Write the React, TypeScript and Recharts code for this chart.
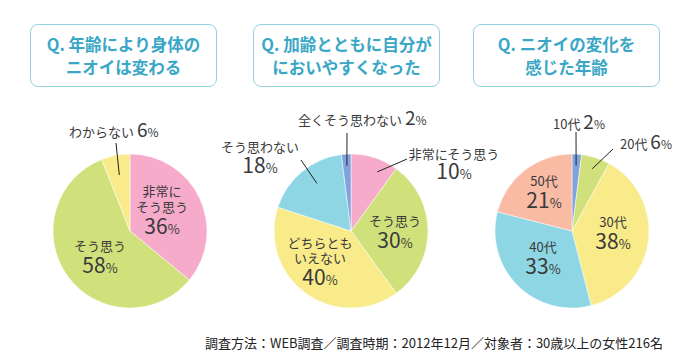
import React from 'react';
import { PieChart, Pie, Cell } from 'recharts';

// Q1: 年齢により身体のニオイは変わる
const q1Names = ['非常にそう思う', 'そう思う', 'わからない'];
const q1Values = [36, 58, 6];
// Q2: 加齢とともに自分がにおいやすくなった
const q2Names = ['非常にそう思う', 'そう思う', 'どちらともいえない', 'そう思わない', '全くそう思わない'];
const q2Values = [10, 30, 40, 18, 2];
// Q3: ニオイの変化を感じた年齢
const q3Names = ['10代', '20代', '30代', '40代', '50代'];
const q3Values = [2, 6, 38, 33, 21];

const PINK = '#f6abcb';
const GREEN = '#d0e17c';
const YELLOW = '#f9ea8a';
const SKY = '#8ed6e3';
const BLUE = '#7fa3df';
const SALMON = '#f9bba3';

const q1Colors = [PINK, GREEN, YELLOW];
const q2Colors = [PINK, GREEN, YELLOW, SKY, BLUE];
const q3Colors = [BLUE, GREEN, YELLOW, SKY, SALMON];

const FONT = '"Noto Sans CJK JP", "Noto Sans", sans-serif';
const TEXT = '#3a3a3a';
const R = 77;
const CY = 226;

type LabelSpec = {
  lines: string[];
  dx: number;
  dy: number;
  inline?: boolean;
  gap?: number;
  pctGap?: number;
  lead?: { r: number; ex: number; ey: number; da?: number };
};

// inline labels: dx is the left edge of the text; block labels: dx is the centre
const q1Labels: LabelSpec[] = [
  { lines: ['非常に', 'そう思う'], dx: 32, dy: -40 },
  { lines: ['そう思う'], dx: -30, dy: 15 },
  { lines: ['わからない'], dx: -61, dy: -99, inline: true, lead: { r: 0.74, ex: -14, ey: -88 } },
];
const q2Labels: LabelSpec[] = [
  { lines: ['非常にそう思う'], dx: 103, dy: -77, pctGap: 18, lead: { r: 0.84, ex: 56, ey: -72, da: 6 } },
  { lines: ['そう思う'], dx: 44, dy: -10 },
  { lines: ['どちらとも', 'いえない'], dx: -31, dy: 12, gap: 15 },
  { lines: ['そう思わない'], dx: -91, dy: -84, pctGap: 19, lead: { r: 0.76, ex: -50, ey: -71, da: 4 } },
  { lines: ['全くそう思わない'], dx: -53, dy: -111, inline: true, lead: { r: 0.85, ex: -4, ey: -98 } },
];
const q3Labels: LabelSpec[] = [
  { lines: ['10代'], dx: -19, dy: -107, inline: true, lead: { r: 0.85, ex: 4, ey: -99 } },
  { lines: ['20代'], dx: 48, dy: -87, inline: true, lead: { r: 0.85, ex: 41, ey: -82 } },
  { lines: ['30代'], dx: 41, dy: -9 },
  { lines: ['40代'], dx: -29, dy: 16 },
  { lines: ['50代'], dx: -28, dy: -50 },
];

const RAD = Math.PI / 180;

const makeLabel = (specs: LabelSpec[], values: number[]) => (props: any) => {
  const { cx, cy, midAngle, outerRadius, index } = props;
  const s = specs[index];
  if (!s) return null;
  const v = values[index];
  const x = cx + s.dx;
  const y = cy + s.dy;
  let lead = null;
  if (s.lead) {
    const a = (midAngle - (s.lead.da || 0)) * RAD;
    const sx = cx + outerRadius * s.lead.r * Math.cos(a);
    const sy = cy - outerRadius * s.lead.r * Math.sin(a);
    lead = <line x1={sx} y1={sy} x2={cx + s.lead.ex} y2={cy + s.lead.ey} stroke="#222" strokeWidth={1} />;
  }
  if (s.inline) {
    return <g>
        {lead}
        <text x={x} y={y + 5} textAnchor="start" fill={TEXT} fontFamily={FONT}>
          <tspan fontSize={13}>{s.lines[0]} </tspan>
          <tspan fontSize={19}>{v}</tspan>
          <tspan fontSize={12}>%</tspan>
        </text>
      </g>;
  }
  const gap = s.gap || 16;
  // one text block: name lines then the percentage, baselines stepped with tspans
  return <g>
      {lead}
      <text x={x} y={y + 5} textAnchor="middle" fill={TEXT} fontFamily={FONT}>
        {s.lines.map((l, i) => <tspan key={i} x={x} y={y + 5 + i * gap} fontSize={13}>
            {l}
          </tspan>)}
        <tspan x={x} y={y + gap * (s.lines.length - 1) + (s.pctGap || 20) + 7} fontSize={21}>{v}</tspan>
        <tspan fontSize={13}>%</tspan>
      </text>
    </g>;
};

const toData = (names: string[], values: number[]) => names.map((name, i) => ({ name, value: values[i] }));

const titles = [
  { left: 30, lines: ['Q. 年齢により身体の', 'ニオイは変わる'] },
  { left: 253, lines: ['Q. 加齢とともに自分が', 'においやすくなった'] },
  { left: 473, lines: ['Q. ニオイの変化を', '感じた年齢'] },
];

const pies = [
  { cx: 125, names: q1Names, values: q1Values, colors: q1Colors, labels: q1Labels },
  { cx: 346, names: q2Names, values: q2Values, colors: q2Colors, labels: q2Labels },
  { cx: 567, names: q3Names, values: q3Values, colors: q3Colors, labels: q3Labels },
];

const App: React.FC = () => {
  return <div style={{ position: 'absolute', left: 0, top: 0, width: 694, height: 360, background: '#fff', fontFamily: FONT }}>
      <PieChart width={694} height={360}>
        {pies.map((p, pi) => <Pie key={pi} data={toData(p.names, p.values)} dataKey="value" nameKey="name" cx={p.cx} cy={CY} outerRadius={R} startAngle={90} endAngle={-270} stroke="#fff" strokeWidth={0.5} isAnimationActive={false} labelLine={false} label={makeLabel(p.labels, p.values)}>
            {p.values.map((_, i) => <Cell key={`c-${pi}-${i}`} fill={p.colors[i]} />)}
          </Pie>)}
      </PieChart>
      {titles.map((t, i) => <div key={i} style={{ position: 'absolute', left: t.left, top: 24, width: 187, height: 63, border: '1px solid #93d2e2', borderRadius: 8, boxSizing: 'border-box', display: 'flex', flexDirection: 'column', justifyContent: 'center', alignItems: 'center', color: '#3aa7c7', fontWeight: 700, fontSize: 16.5, lineHeight: '23px', whiteSpace: 'pre' }}>
          {t.lines.map((l, j) => <div key={j}>{l}</div>)}
        </div>)}
      <div style={{ position: 'absolute', left: 205, top: 334, fontSize: 13, color: '#222', whiteSpace: 'nowrap', lineHeight: '18px' }}>
        調査方法：WEB調査／調査時期：2012年12月／対象者：30歳以上の女性216名
      </div>
    </div>;
};

export default App;
